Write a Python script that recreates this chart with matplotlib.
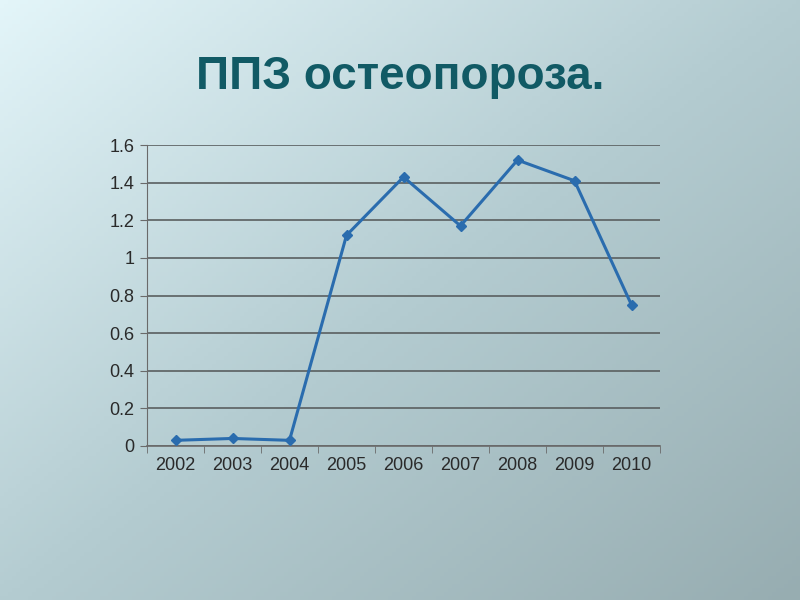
import numpy as np
import matplotlib
matplotlib.use('Agg')
import matplotlib.pyplot as plt
from matplotlib.colors import LinearSegmentedColormap

years = ['2002', '2003', '2004', '2005', '2006', '2007', '2008', '2009', '2010']
values = [0.03, 0.04, 0.03, 1.12, 1.43, 1.17, 1.52, 1.41, 0.75]
yticks = [0, 0.2, 0.4, 0.6, 0.8, 1, 1.2, 1.4, 1.6]
ytick_labels = ['0', '0.2', '0.4', '0.6', '0.8', '1', '1.2', '1.4', '1.6']
title = 'ППЗ остеопороза.'

plt.rcParams['font.family'] = ['Liberation Sans', 'DejaVu Sans']

fig = plt.figure(figsize=(8, 6), dpi=100)

# diagonal gradient background
bg = fig.add_axes([0, 0, 1, 1])
bg.set_axis_off()
gx, gy = np.meshgrid(np.linspace(0, 1, 200), np.linspace(0, 1, 150))
grad = (gx + gy) / 2
cmap = LinearSegmentedColormap.from_list('bg', ['#e3f5f9', '#b4ccd1', '#97adb1'])
bg.imshow(grad, cmap=cmap, aspect='auto', extent=[0, 1, 1, 0], origin='upper')
bg.set_xlim(0, 1)
bg.set_ylim(1, 0)

fig.text(0.5, 0.872, title, ha='center', va='center', fontsize=33,
         fontweight='bold', color='#115a65')

ax = fig.add_axes([0.18375, 0.2567, 0.64125, 0.5016])
ax.patch.set_alpha(0)
x = np.arange(len(years))
ax.plot(x, values, color='#2a6cae', lw=2.2, marker='D', ms=5,
        markerfacecolor='#2a6cae', markeredgecolor='#2a6cae', zorder=3)

ax.set_xlim(-0.5, len(years) - 0.5)
ax.set_ylim(0, 1.6)
ax.set_yticks(yticks)
ax.set_yticklabels(ytick_labels)
ax.set_xticks(x)
ax.set_xticklabels(years)
ax.set_xticks(np.arange(-0.5, len(years), 1), minor=True)
ax.tick_params(axis='x', which='major', length=0, pad=8, labelsize=13, colors='#2a2a2a')
ax.tick_params(axis='x', which='minor', length=5, color='#6a6a6a')
ax.tick_params(axis='y', length=5, color='#6a6a6a', labelsize=13, labelcolor='#2a2a2a', pad=4)

ax.yaxis.grid(True, color='#5a5f60', lw=1.2)
ax.set_axisbelow(True)
for s in ['top', 'right']:
    ax.spines[s].set_visible(False)
ax.spines['left'].set_color('#6a6a6a')
ax.spines['bottom'].set_color('#6a6a6a')
ax.spines['bottom'].set_linewidth(1.2)

fig.savefig('out.png', dpi=100)
